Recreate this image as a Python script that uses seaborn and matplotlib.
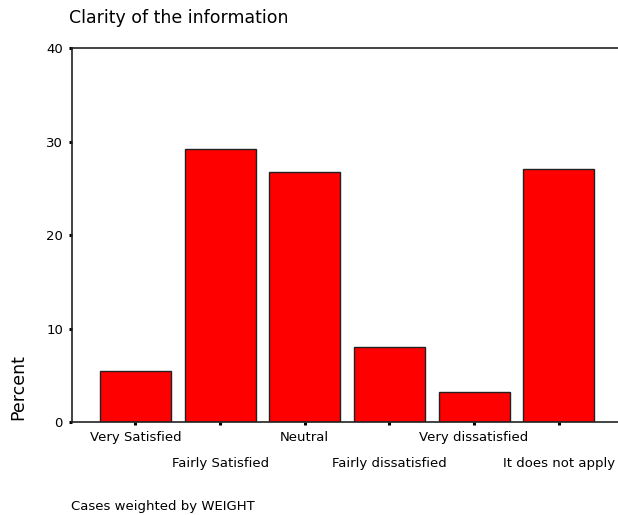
import pandas as pd
import seaborn as sns
import matplotlib.pyplot as plt

categorias = ["Very Satisfied", "Fairly Satisfied", "Neutral",
              "Fairly dissatisfied", "Very dissatisfied", "It does not apply"]
porcentajes = [5.5, 29.2, 26.8, 8.0, 3.2, 27.1]
ticks_y = [0, 10, 20, 30, 40]

df = pd.DataFrame({"categoria": categorias, "porcentaje": porcentajes})

sns.set_style("white")
plt.rcParams["font.family"] = ["DejaVu Sans"]
plt.rcParams["text.color"] = "black"
plt.rcParams["xtick.color"] = "black"
plt.rcParams["ytick.color"] = "black"

fig = plt.figure(figsize=(6.18, 5.15), dpi=100)
ax = fig.add_axes([0.1165, 0.18, 0.8835, 0.7268])

sns.barplot(x="categoria", y="porcentaje", data=df, color="#ff0000",
            edgecolor="#222222", linewidth=1.0, width=0.84, saturation=1, ax=ax)

ax.set_xlim(-0.75, 5.7)
ax.set_ylim(0, 40)
ax.set_yticks(ticks_y)
ax.set_yticklabels([str(t) for t in ticks_y], fontsize=9.5, color="black")

# etiquetas alternadas en dos filas
ax.set_xticks(range(len(categorias)))
ax.set_xticklabels([])
for i, c in enumerate(categorias):
    y_txt = -0.04 if i % 2 == 0 else -0.11
    ax.text(i, y_txt, c, transform=ax.get_xaxis_transform(), fontsize=9.5,
            ha="center", va="center", color="black")

ax.tick_params(axis="both", direction="out", length=2.5, width=2.2,
               color="black", labelcolor="black", bottom=True, left=True, pad=4)

for lado in ["left", "top", "bottom"]:
    ax.spines[lado].set_color("#222222")
    ax.spines[lado].set_linewidth(1.2)
ax.spines["right"].set_visible(False)

ax.set_xlabel("")
ax.set_ylabel("")
fig.text(0.03, 0.249, "Percent", rotation=90, fontsize=12.5, ha="center", va="center", color="black")
fig.text(0.112, 0.965, "Clarity of the information", fontsize=12.5, ha="left", va="center", color="black")
fig.text(0.115, 0.016, "Cases weighted by WEIGHT", fontsize=9.5, ha="left", va="center", color="black")

plt.savefig("out.png", dpi=100)
plt.close()
